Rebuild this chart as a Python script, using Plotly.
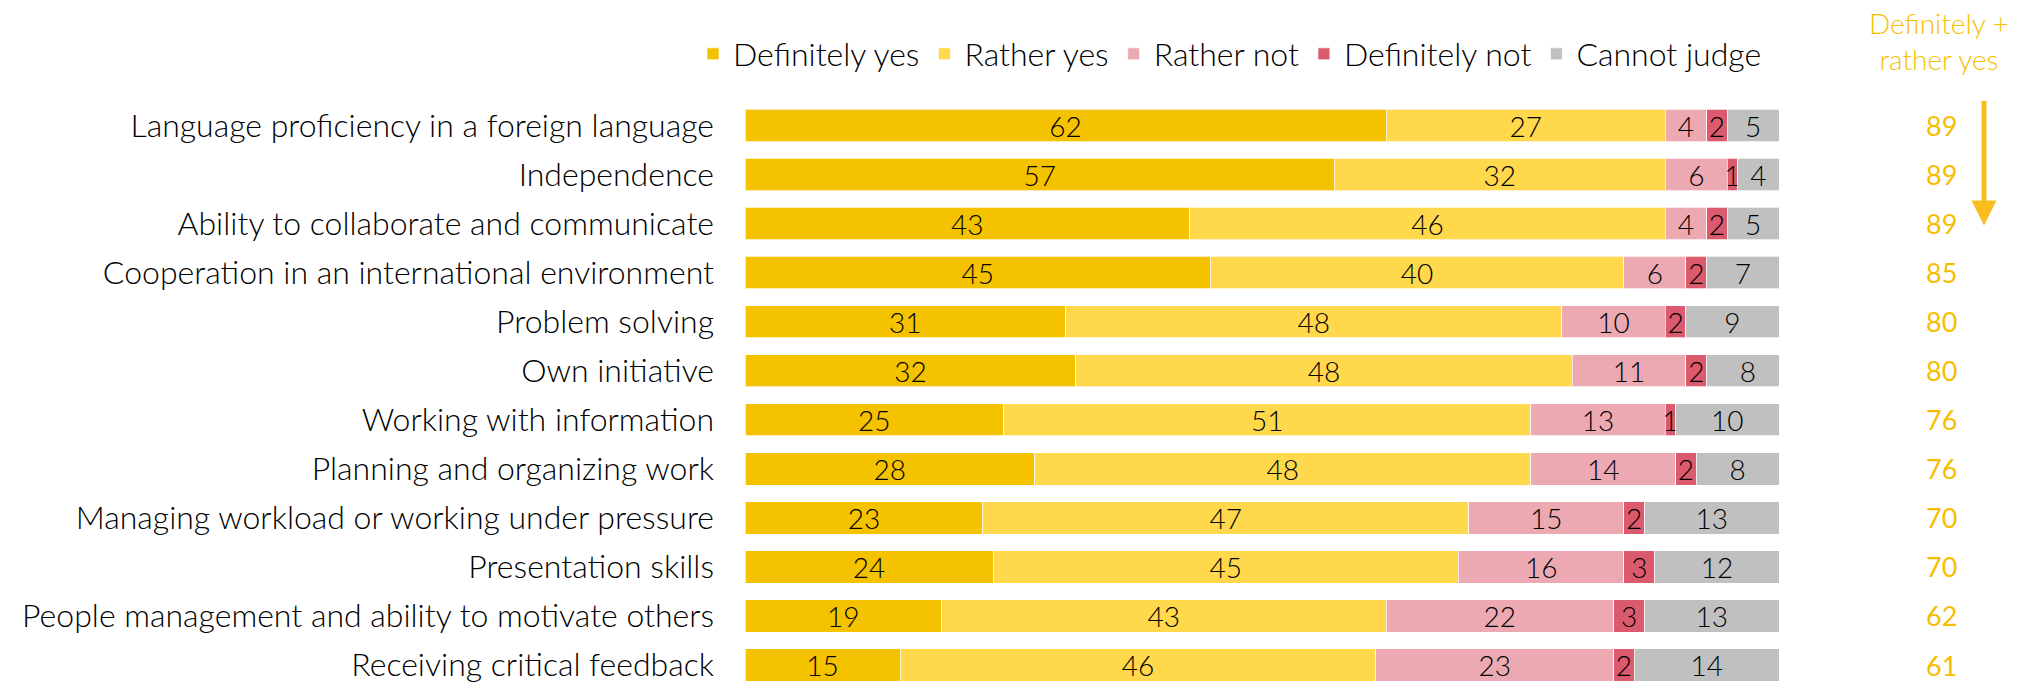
import plotly.graph_objects as go

categories = [
    "Language proficiency in a foreign language",
    "Independence",
    "Ability to collaborate and communicate",
    "Cooperation in an international environment",
    "Problem solving",
    "Own initiative",
    "Working with information",
    "Planning and organizing work",
    "Managing workload or working under pressure",
    "Presentation skills",
    "People management and ability to motivate others",
    "Receiving critical feedback",
]
definitely_yes = [62, 57, 43, 45, 31, 32, 25, 28, 23, 24, 19, 15]
rather_yes = [27, 32, 46, 40, 48, 48, 51, 48, 47, 45, 43, 46]
rather_not = [4, 6, 4, 6, 10, 11, 13, 14, 15, 16, 22, 23]
definitely_not = [2, 1, 2, 2, 2, 2, 1, 2, 2, 3, 3, 2]
cannot_judge = [5, 4, 5, 7, 9, 8, 10, 8, 13, 12, 13, 14]
yes_total = [89, 89, 89, 85, 80, 80, 76, 76, 70, 70, 62, 61]

series = [
    ("Definitely yes", definitely_yes, "#F5C200"),
    ("Rather yes", rather_yes, "#FFD84C"),
    ("Rather not", rather_not, "#EDA9B2"),
    ("Definitely not", definitely_not, "#DC5A6E"),
    ("Cannot judge", cannot_judge, "#C0C0C0"),
]

FONT = "Lato"
W, H = 2023, 683
ML, MR, MT, MB = 745, 244, 101, 0
PW, PH = W - ML - MR, H - MT - MB


def px_x(p):
    return (p - ML) / PW


def px_y(p):
    return (H - MB - p) / PH


fig = go.Figure()
for name, vals, col in series:
    fig.add_trace(go.Bar(
        y=categories, x=vals, name=name, orientation="h",
        marker=dict(color=col, line=dict(color="rgba(255,255,255,0.7)", width=1)),
        text=[str(v) for v in vals], textposition="inside",
        insidetextanchor="middle", textangle=0, constraintext="none",
        insidetextfont=dict(family=FONT, size=28, color="#000000", weight=300),
        hoverinfo="skip",
    ))

for cat, tot in zip(categories, yes_total):
    fig.add_annotation(
        x=px_x(1941), xref="paper", y=cat, yref="y",
        text=str(tot), showarrow=False, xanchor="center", yanchor="middle",
        font=dict(family=FONT, size=27, color="#F7BE00", weight=400),
    )

fig.add_annotation(
    x=px_x(1939), xref="paper", y=px_y(41), yref="paper",
    text="Definitely +<br>rather yes", showarrow=False, xanchor="center", yanchor="middle",
    font=dict(family=FONT, size=28, color="#F7BE00", weight=300), align="center",
)

fig.add_annotation(
    x=px_x(1984), xref="paper", y=2.04, yref="y",
    ax=0, ay=-126, axref="pixel", ayref="pixel", text="", showarrow=True,
    arrowhead=2, arrowsize=1.0, arrowwidth=5, arrowcolor="#F9BE1E", standoff=0,
)

fig.update_layout(
    width=W, height=H,
    margin=dict(l=ML, r=MR, t=MT, b=MB, pad=0, autoexpand=False),
    barmode="stack", bargap=0.34,
    plot_bgcolor="white", paper_bgcolor="white",
    font=dict(family=FONT, size=32, color="#000000", weight=300),
    showlegend=True,
    legend=dict(
        orientation="h", xref="paper", yref="paper", traceorder="normal",
        x=px_x(693), y=px_y(54), xanchor="left", yanchor="middle",
        font=dict(family=FONT, size=32, color="#000000", weight=300),
        itemwidth=30, tracegroupgap=0, bgcolor="rgba(0,0,0,0)",
    ),
    xaxis=dict(range=[0, 100], visible=False, fixedrange=True),
    yaxis=dict(
        type="category", categoryorder="array", categoryarray=categories,
        range=[11.367, -0.5], showgrid=False, zeroline=False, showline=False,
        ticks="", ticklabelstandoff=30,
        tickfont=dict(family=FONT, size=32, color="#000000", weight=300),
    ),
)

fig.write_html("out.html")
